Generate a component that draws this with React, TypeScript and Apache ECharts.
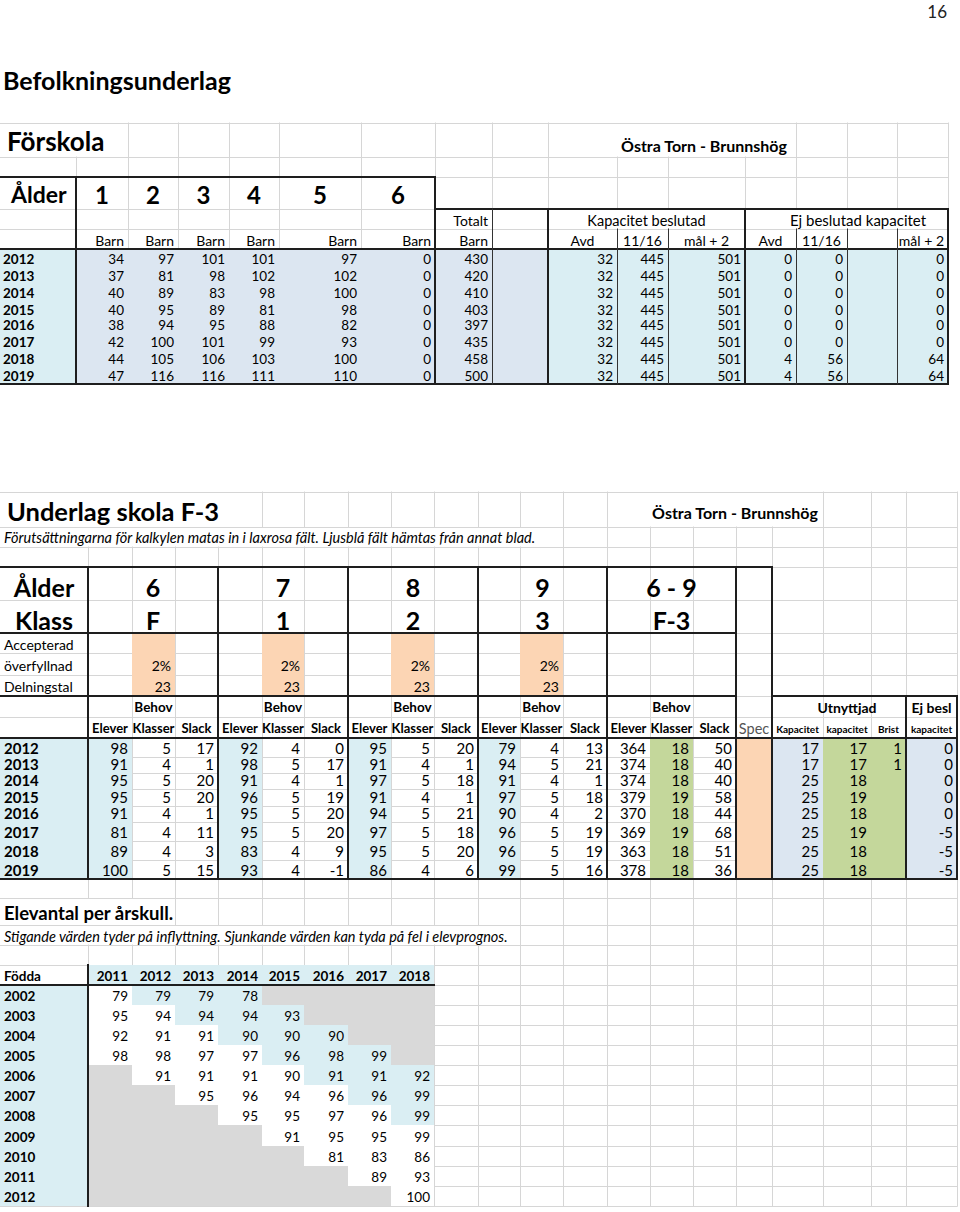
import { useEffect, useRef } from "react";
import * as echarts from "echarts";

// ================= DATA =================
const pageNumber = "16";
const pageTitle = "Befolkningsunderlag";
const areaName = "Östra Torn - Brunnshög";

// ---- Förskola ----
const forskolaTitle = "Förskola";
const ageLabel = "Ålder";
const forskolaAges = ["1", "2", "3", "4", "5", "6"];
const forskolaYears = ["2012", "2013", "2014", "2015", "2016", "2017", "2018", "2019"];
const barnAge1 = [34, 37, 40, 40, 38, 42, 44, 47];
const barnAge2 = [97, 81, 89, 95, 94, 100, 105, 116];
const barnAge3 = [101, 98, 83, 89, 95, 101, 106, 116];
const barnAge4 = [101, 102, 98, 81, 88, 99, 103, 111];
const barnAge5 = [97, 102, 100, 98, 82, 93, 100, 110];
const barnAge6 = [0, 0, 0, 0, 0, 0, 0, 0];
const barnTotalt = [430, 420, 410, 403, 397, 435, 458, 500];
const kapBeslutadAvd = [32, 32, 32, 32, 32, 32, 32, 32];
const kapBeslutad1116 = [445, 445, 445, 445, 445, 445, 445, 445];
const kapBeslutadMal2 = [501, 501, 501, 501, 501, 501, 501, 501];
const ejBeslutadAvd = [0, 0, 0, 0, 0, 0, 4, 4];
const ejBeslutad1116 = [0, 0, 0, 0, 0, 0, 56, 56];
const ejBeslutadMal2 = [0, 0, 0, 0, 0, 0, 64, 64];
const forskolaGroupLabels = ["Totalt", "Kapacitet beslutad", "Ej beslutad kapacitet"];
const forskolaUnitLabels = ["Barn", "Avd", "11/16", "mål + 2"];

// ---- Skola F-3 ----
const skolaTitle = "Underlag skola F-3";
const skolaNote = "Förutsättningarna för kalkylen matas in i laxrosa fält. Ljusblå fält hämtas från annat blad.";
const klassLabel = "Klass";
const skolaAges = ["6", "7", "8", "9", "6 - 9"];
const skolaKlasser = ["F", "1", "2", "3", "F-3"];
const paramLabels = ["Accepterad", "överfyllnad", "Delningstal"];
const accepteradOverfyllnad = ["2%", "2%", "2%", "2%"];
const delningstal = [23, 23, 23, 23];
const subLabels = ["Elever", "Klasser", "Slack"];
const behovLabel = "Behov";
const capacityHeads = ["Utnyttjad", "Ej besl"];
const capacityLabels = ["Spec", "Kapacitet", "kapacitet", "Brist", "kapacitet"];
const skolaYears = ["2012", "2013", "2014", "2015", "2016", "2017", "2018", "2019"];
const eleverF = [98, 91, 95, 95, 91, 81, 89, 100];
const klasserF = [5, 4, 5, 5, 4, 4, 4, 5];
const slackF = [17, 1, 20, 20, 1, 11, 3, 15];
const elever1 = [92, 98, 91, 96, 95, 95, 83, 93];
const klasser1 = [4, 5, 4, 5, 5, 5, 4, 4];
const slack1 = [0, 17, 1, 19, 20, 20, 9, -1];
const elever2 = [95, 91, 97, 91, 94, 97, 95, 86];
const klasser2 = [5, 4, 5, 4, 5, 5, 5, 4];
const slack2 = [20, 1, 18, 1, 21, 18, 20, 6];
const elever3 = [79, 94, 91, 97, 90, 96, 96, 99];
const klasser3 = [4, 5, 4, 5, 4, 5, 5, 5];
const slack3 = [13, 21, 1, 18, 2, 19, 19, 16];
const eleverTot = [364, 374, 374, 379, 370, 369, 363, 378];
const klasserTot = [18, 18, 18, 19, 18, 19, 18, 18];
const slackTot = [50, 40, 40, 58, 44, 68, 51, 36];
const utnyttjadKapacitet = [17, 17, 25, 25, 25, 25, 25, 25];
const utnyttjadKapacitet2 = [17, 17, 18, 19, 18, 19, 18, 18];
const utnyttjadBrist: (number | null)[] = [1, 1, null, null, null, null, null, null];
const ejBeslKapacitet = [0, 0, 0, 0, 0, -5, -5, -5];

// ---- Elevantal per årskull ----
const elevTitle = "Elevantal per årskull.";
const elevNote = "Stigande värden tyder på inflyttning. Sjunkande värden kan tyda på fel i elevprognos.";
const foddaLabel = "Födda";
const skolAr = [2011, 2012, 2013, 2014, 2015, 2016, 2017, 2018];
const foddaAr = [2002, 2003, 2004, 2005, 2006, 2007, 2008, 2009, 2010, 2011, 2012];
const _ = null;
const fodda2002 = [79, 79, 79, 78, _, _, _, _];
const fodda2003 = [95, 94, 94, 94, 93, _, _, _];
const fodda2004 = [92, 91, 91, 90, 90, 90, _, _];
const fodda2005 = [98, 98, 97, 97, 96, 98, 99, _];
const fodda2006 = [_, 91, 91, 91, 90, 91, 91, 92];
const fodda2007 = [_, _, 95, 96, 94, 96, 96, 99];
const fodda2008 = [_, _, _, 95, 95, 97, 96, 99];
const fodda2009 = [_, _, _, _, 91, 95, 95, 99];
const fodda2010 = [_, _, _, _, _, 81, 83, 86];
const fodda2011 = [_, _, _, _, _, _, 89, 93];
const fodda2012 = [_, _, _, _, _, _, _, 100];

// ================= LAYOUT / STYLE =================
const FONT = "Lato, 'Noto Sans', sans-serif";
const COL = {
  cyan: "#DAEEF3",
  blue: "#DCE6F1",
  peach: "#FCD5B4",
  green: "#C4D79B",
  gray: "#D9D9D9",
  white: "#FFFFFF",
  grid: "#D6D6D6",
  line: "#1E1E1E",
};
const S1_COLS = [0, 76, 128, 178, 229, 279, 361, 435, 492, 548, 617, 668, 745, 796, 847, 897, 948];
const S1_ROWS = [123, 157, 177, 209, 229, 249, 267, 284, 301, 318, 333, 350, 367, 384];
const S2_COLS = [0, 88, 132, 175, 218, 262, 304, 348, 391, 434, 478, 520, 563, 607, 650, 693, 736, 772, 823, 871, 906, 957];
const S2_ROWS = [492, 527, 547, 567, 600, 633, 653, 675, 696, 717, 738, 757, 773, 789, 806, 822, 841, 860, 879, 898, 925, 945, 965, 985, 1005, 1025, 1045, 1065, 1085, 1105, 1125, 1146, 1166, 1186, 1206];

type TextSpec = { text: string; align: string; size: number; weight: string; style: string; color: string };

function buildOption() {
  const gridLines: number[][] = [];
  const fillBoxes: number[][] = [];
  const fillColors: string[] = [];
  const borderLines: number[][] = [];
  const borderWidths: number[] = [];
  const textPos: number[][] = [];
  const textSpecs: TextSpec[] = [];

  const fill = (x0: number, y0: number, x1: number, y1: number, c: string) => {
    fillBoxes.push([x0, y0, x1, y1]);
    fillColors.push(c);
  };
  const cellFill = (cols: number[], rows: number[], c: number, r: number, color: string) =>
    fill(cols[c], rows[r], cols[c + 1], rows[r + 1], color);
  const bl = (x0: number, y0: number, x1: number, y1: number, w = 2) => {
    borderLines.push([x0, y0, x1, y1]);
    borderWidths.push(w);
  };
  const tx = (x: number, y: number, text: string | number, o: Partial<TextSpec> = {}) => {
    textPos.push([x, y]);
    textSpecs.push({
      text: String(text),
      align: o.align || "left",
      size: o.size || 13,
      weight: o.weight || "normal",
      style: o.style || "normal",
      color: o.color || "#000000",
    });
  };
  const cx = (cols: number[], c: number, align: string, c2 = c) =>
    align === "right" ? cols[c2 + 1] - 4 : align === "left" ? cols[c] + 4 : (cols[c] + cols[c2 + 1]) / 2;
  const addGrid = (cols: number[], rows: number[], hidden: (x: number, r: number) => boolean) => {
    const xEnd = cols[cols.length - 1];
    rows.forEach((y) => gridLines.push([cols[0], y, xEnd, y]));
    for (let i = 1; i < cols.length; i++)
      for (let r = 0; r < rows.length - 1; r++)
        if (!hidden(cols[i], r)) gridLines.push([cols[i], rows[r], cols[i], rows[r + 1]]);
  };

  // ---------- page ----------
  tx(947, 11, pageNumber, { align: "right", size: 17, color: "#222222" });
  tx(3, 80, pageTitle, { size: 25, weight: "bold" });

  // ---------- Section 1: Förskola ----------
  addGrid(S1_COLS, S1_ROWS, (x, r) =>
    (r === 0 && [76, 617, 668, 745].includes(x)) || (r === 3 && [617, 668, 796, 847, 897].includes(x))
  );
  for (let r = 5; r <= 12; r++) {
    cellFill(S1_COLS, S1_ROWS, 0, r, COL.cyan);
    for (let c = 1; c <= 8; c++) cellFill(S1_COLS, S1_ROWS, c, r, COL.blue);
    for (let c = 9; c <= 15; c++) cellFill(S1_COLS, S1_ROWS, c, r, COL.cyan);
  }
  bl(0, 177, 435, 177);
  bl(76, 177, 76, 384);
  bl(435, 177, 435, 384);
  bl(435, 209, 948, 209);
  bl(548, 209, 548, 384);
  bl(745, 209, 745, 384);
  bl(948, 209, 948, 384);
  bl(0, 249, 948, 249);
  bl(0, 384, 948, 384);
  bl(492, 209, 492, 384, 1);
  [617, 668, 796, 847, 897].forEach((x) => bl(x, 229, x, 384, 1));

  tx(7, 141, forskolaTitle, { size: 26, weight: "bold" });
  tx(704, 145, areaName, { size: 16, weight: "bold", align: "center" });
  tx(11, 194, ageLabel, { size: 23, weight: "bold" });
  forskolaAges.forEach((a, k) => tx(cx(S1_COLS, k + 1, "center"), 194, a, { size: 24, weight: "bold", align: "center" }));
  tx(cx(S1_COLS, 7, "right"), 220, forskolaGroupLabels[0], { size: 14, align: "right" });
  tx(cx(S1_COLS, 9, "center", 11), 220, forskolaGroupLabels[1], { size: 14.5, align: "center" });
  tx(858, 220, forskolaGroupLabels[2], { size: 15, align: "center" });
  for (let c = 1; c <= 7; c++) tx(cx(S1_COLS, c, "right"), 240, forskolaUnitLabels[0], { size: 14, align: "right" });
  tx(cx(S1_COLS, 9, "center"), 240, forskolaUnitLabels[1], { size: 14, align: "center" });
  tx(cx(S1_COLS, 10, "center"), 240, forskolaUnitLabels[2], { size: 14, align: "center" });
  tx(cx(S1_COLS, 11, "center"), 240, forskolaUnitLabels[3], { size: 14, align: "center" });
  tx(cx(S1_COLS, 12, "center"), 240, forskolaUnitLabels[1], { size: 14, align: "center" });
  tx(cx(S1_COLS, 13, "center"), 240, forskolaUnitLabels[2], { size: 14, align: "center" });
  tx(cx(S1_COLS, 15, "right"), 240, forskolaUnitLabels[3], { size: 14, align: "right" });
  const s1Cols: [number, number[]][] = [
    [1, barnAge1], [2, barnAge2], [3, barnAge3], [4, barnAge4], [5, barnAge5], [6, barnAge6],
    [7, barnTotalt], [9, kapBeslutadAvd], [10, kapBeslutad1116], [11, kapBeslutadMal2],
    [12, ejBeslutadAvd], [13, ejBeslutad1116], [15, ejBeslutadMal2],
  ];
  forskolaYears.forEach((yr, i) => {
    const y = S1_ROWS[6 + i] - 8.5;
    tx(3, y, yr, { size: 13.5, weight: "bold" });
    s1Cols.forEach(([c, arr]) => tx(cx(S1_COLS, c, "right"), y, arr[i], { size: 13.5, align: "right" }));
  });

  // ---------- Section 2: Skola F-3 ----------
  addGrid(S2_COLS, S2_ROWS, (x, r) =>
    (r === 0 && [88, 132, 175, 218, 650, 693, 736, 772].includes(x)) ||
    (r === 1 && x <= 520) ||
    (r === 19 && x <= 132) ||
    (r === 20 && x <= 478)
  );
  for (let g = 0; g < 4; g++) for (let r = 5; r <= 7; r++) cellFill(S2_COLS, S2_ROWS, 2 + 3 * g, r, COL.peach);
  for (let r = 10; r <= 17; r++) {
    cellFill(S2_COLS, S2_ROWS, 0, r, COL.cyan);
    for (let g = 0; g < 4; g++) cellFill(S2_COLS, S2_ROWS, 1 + 3 * g, r, COL.cyan);
    cellFill(S2_COLS, S2_ROWS, 14, r, COL.green);
    cellFill(S2_COLS, S2_ROWS, 16, r, COL.peach);
    cellFill(S2_COLS, S2_ROWS, 17, r, COL.blue);
    cellFill(S2_COLS, S2_ROWS, 18, r, COL.green);
    cellFill(S2_COLS, S2_ROWS, 19, r, COL.green);
    cellFill(S2_COLS, S2_ROWS, 20, r, COL.blue);
  }
  bl(0, 567, 772, 567);
  bl(0, 633, 736, 633);
  bl(0, 696, 736, 696);
  bl(772, 696, 957, 696);
  bl(0, 738, 957, 738);
  bl(0, 879, 957, 879);
  [88, 218, 348, 478, 607, 736, 772].forEach((x) => bl(x, 567, x, 879));
  [906, 957].forEach((x) => bl(x, 696, x, 879));

  tx(7, 511, skolaTitle, { size: 25.5, weight: "bold" });
  tx(735, 512, areaName, { size: 16, weight: "bold", align: "center" });
  tx(4, 537, skolaNote, { size: 14.5, style: "italic" });
  tx(cx(S2_COLS, 0, "center"), 587, ageLabel, { size: 25, weight: "bold", align: "center" });
  tx(cx(S2_COLS, 0, "center"), 620, klassLabel, { size: 25, weight: "bold", align: "center" });
  for (let g = 0; g < 5; g++) {
    const x = cx(S2_COLS, 1 + 3 * g, "center", 3 + 3 * g);
    tx(x, 587, skolaAges[g], { size: 25, weight: "bold", align: "center" });
    tx(x, 620, skolaKlasser[g], { size: 25, weight: "bold", align: "center" });
    tx(cx(S2_COLS, 2 + 3 * g, "center"), 707, behovLabel, { size: 13.5, weight: "bold", align: "center" });
    subLabels.forEach((s, k) =>
      tx(cx(S2_COLS, 1 + 3 * g + k, "center"), 728, s, { size: 13, weight: "bold", align: "center" })
    );
  }
  tx(4, 644, paramLabels[0], { size: 14 });
  tx(4, 665, paramLabels[1], { size: 14 });
  tx(4, 686, paramLabels[2], { size: 14 });
  for (let g = 0; g < 4; g++) {
    tx(cx(S2_COLS, 2 + 3 * g, "right"), 665, accepteradOverfyllnad[g], { size: 14, align: "right" });
    tx(cx(S2_COLS, 2 + 3 * g, "right"), 686, delningstal[g], { size: 14, align: "right" });
  }
  tx(847, 707, capacityHeads[0], { size: 14, weight: "bold", align: "center" });
  tx(cx(S2_COLS, 20, "center"), 707, capacityHeads[1], { size: 14, weight: "bold", align: "center" });
  tx(cx(S2_COLS, 16, "center"), 728, capacityLabels[0], { size: 14.5, align: "center", color: "#555555" });
  for (let k = 1; k < 5; k++)
    tx(cx(S2_COLS, 16 + k, "center"), 729, capacityLabels[k], { size: 10, weight: "bold", align: "center" });
  const s2Cols: [number, (number | null)[]][] = [
    [1, eleverF], [2, klasserF], [3, slackF],
    [4, elever1], [5, klasser1], [6, slack1],
    [7, elever2], [8, klasser2], [9, slack2],
    [10, elever3], [11, klasser3], [12, slack3],
    [13, eleverTot], [14, klasserTot], [15, slackTot],
    [17, utnyttjadKapacitet], [18, utnyttjadKapacitet2], [19, utnyttjadBrist], [20, ejBeslKapacitet],
  ];
  skolaYears.forEach((yr, i) => {
    const y = S2_ROWS[11 + i] - 9;
    tx(4, y, yr, { size: 15, weight: "bold" });
    s2Cols.forEach(([c, arr]) => {
      if (arr[i] !== null) tx(cx(S2_COLS, c, "right"), y, arr[i] as number, { size: 15, align: "right" });
    });
  });

  // ---------- Section 3: Elevantal per årskull ----------
  const fodda = [fodda2002, fodda2003, fodda2004, fodda2005, fodda2006, fodda2007, fodda2008, fodda2009, fodda2010, fodda2011, fodda2012];
  for (let c = 1; c <= 8; c++) cellFill(S2_COLS, S2_ROWS, c, 22, COL.cyan);
  foddaAr.forEach((born, j) => {
    const r = 23 + j;
    cellFill(S2_COLS, S2_ROWS, 0, r, COL.cyan);
    fodda[j].forEach((v, k) => {
      const col = v === null ? COL.gray : skolAr[k] - born >= 10 ? COL.cyan : COL.white;
      cellFill(S2_COLS, S2_ROWS, k + 1, r, col);
    });
  });
  bl(0, 985, 434, 985);
  bl(88, 965, 88, 1206);
  tx(4, 913, elevTitle, { size: 18.5, weight: "bold" });
  tx(4, 936, elevNote, { size: 14.5, style: "italic" });
  tx(4, 976, foddaLabel, { size: 13.5, weight: "bold" });
  skolAr.forEach((yr, k) => tx(cx(S2_COLS, k + 1, "right"), 976, yr, { size: 13.5, weight: "bold", align: "right" }));
  foddaAr.forEach((born, j) => {
    const y = S2_ROWS[24 + j] - 9;
    tx(4, y, born, { size: 13.5, weight: "bold" });
    fodda[j].forEach((v, k) => {
      if (v !== null) tx(cx(S2_COLS, k + 1, "right"), y, v, { size: 13.5, align: "right" });
    });
  });

  const lineItem = (api: any, color: string, w: number) => {
    const a = api.coord([api.value(0), api.value(1)]);
    const b = api.coord([api.value(2), api.value(3)]);
    const off = w % 2 === 1 ? 0.5 : 0;
    const vertical = Math.abs(a[0] - b[0]) < 0.01;
    return {
      type: "line",
      shape: {
        x1: a[0] + (vertical ? off : 0),
        y1: a[1] + (vertical ? 0 : off),
        x2: b[0] + (vertical ? off : 0),
        y2: b[1] + (vertical ? 0 : off),
      },
      style: { stroke: color, lineWidth: w, lineCap: "square" },
    };
  };

  return {
    animation: false,
    backgroundColor: "#ffffff",
    grid: { left: 0, right: 0, top: 0, bottom: 0, containLabel: false },
    xAxis: { type: "value", min: 0, max: 960, show: false },
    yAxis: { type: "value", min: 0, max: 1212, inverse: true, show: false },
    series: [
      {
        type: "custom",
        name: "gridlines",
        z: 1,
        silent: true,
        clip: false,
        data: gridLines,
        renderItem: (_p: any, api: any) => lineItem(api, COL.grid, 1),
      },
      {
        type: "custom",
        name: "cells",
        z: 2,
        silent: true,
        clip: false,
        data: fillBoxes,
        renderItem: (p: any, api: any) => {
          const a = api.coord([api.value(0), api.value(1)]);
          const b = api.coord([api.value(2), api.value(3)]);
          return {
            type: "rect",
            shape: { x: a[0], y: a[1], width: b[0] - a[0], height: b[1] - a[1] },
            style: { fill: fillColors[p.dataIndex] },
          };
        },
      },
      {
        type: "custom",
        name: "borders",
        z: 3,
        silent: true,
        clip: false,
        data: borderLines,
        renderItem: (p: any, api: any) => {
          const w = borderWidths[p.dataIndex];
          return lineItem(api, w === 1 ? "#333333" : COL.line, w);
        },
      },
      {
        type: "custom",
        name: "texts",
        z: 4,
        silent: true,
        clip: false,
        data: textPos,
        renderItem: (p: any, api: any) => {
          const s = textSpecs[p.dataIndex];
          const pt = api.coord([api.value(0), api.value(1)]);
          return {
            type: "text",
            x: pt[0],
            y: pt[1],
            style: {
              text: s.text,
              fill: s.color,
              fontFamily: FONT,
              fontSize: s.size,
              fontWeight: s.weight,
              fontStyle: s.style,
              align: s.align,
              verticalAlign: "middle",
            },
          };
        },
      },
    ],
  };
}

export default function App() {
  const ref = useRef<HTMLDivElement>(null);
  useEffect(() => {
    if (!ref.current) return;
    const chart = echarts.init(ref.current, null, { renderer: "svg" });
    chart.setOption(buildOption() as any);
    return () => chart.dispose();
  }, []);
  return <div ref={ref} style={{ position: "absolute", left: 0, top: 0, width: 960, height: 1212 }} />;
}
